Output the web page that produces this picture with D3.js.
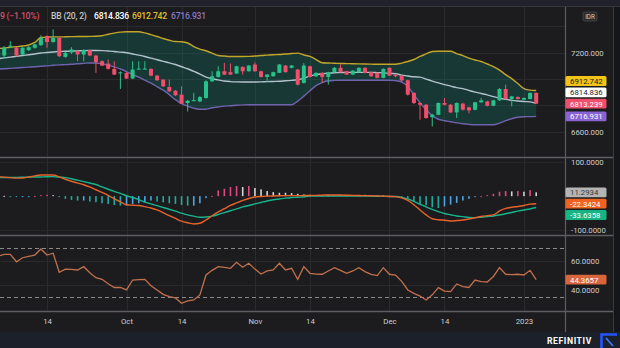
<!DOCTYPE html>
<html><head><meta charset="utf-8">
<script src="https://cdn.jsdelivr.net/npm/d3@7"></script>
<style>html,body{margin:0;padding:0;background:#1c1c1e;overflow:hidden}svg{display:block}</style>
</head><body>
<svg id="c" width="620" height="348"></svg>
<script>
// ---------- DATA ----------
const tickIndex  = [8, 21, 30, 42, 51, 64, 73, 86];
const tickLabels = ["14", "Oct", "14", "Nov", "14", "Dec", "14", "2023"];

const open = [
7160,7177,7245,7236,7185,7218,7236,7256,7324,7279,
7311,7167,7200,7210,7185,7218,7177,7134,7116,7076,
7046,7046,7003,7074,7074,7076,7025,6995,6939,6911,
6881,6818,6835,6830,6856,6982,7015,7058,7051,7041,
7091,7058,7109,7058,7015,7020,7046,7101,7084,7071,
6970,7096,7020,7046,7015,7051,7084,7058,7033,7051,
7084,7051,7046,7008,7084,7033,7025,6990,6894,6818,
6805,6711,6729,6818,6805,6747,6813,6785,6767,6823,
6830,6797,6838,6924,6848,6863,6843,6848,6894];
const high = [
7215,7248,7286,7240,7240,7248,7265,7330,7330,7375,
7315,7205,7240,7215,7225,7222,7180,7140,7147,7134,
7058,7050,7134,7134,7134,7080,7030,6995,6995,6915,
6944,6840,6894,6870,6990,7058,7096,7122,7117,7100,
7095,7105,7125,7062,7036,7055,7112,7105,7105,7075,
7120,7100,7050,7050,7055,7090,7109,7062,7066,7088,
7088,7055,7050,7080,7088,7036,7036,6995,6900,6822,
6810,6735,6822,6856,6810,6822,6820,6790,6827,6856,
6835,6842,6930,6957,6872,6868,6860,6898,6898];
const low = [
7150,7159,7236,7170,7180,7212,7230,7250,7236,7275,
7165,7160,7190,7134,7134,7172,7046,7096,7071,7030,
6924,7000,7000,7070,7070,7020,6985,6940,6900,6870,
6810,6754,6830,6825,6850,6978,7010,7030,7030,7038,
7033,7055,7055,7010,6977,7018,7044,7048,7080,6950,
6965,7010,7015,6970,6957,7048,7048,7030,7030,7048,
7042,7015,7005,7005,7020,7012,6978,6875,6810,6691,
6700,6640,6725,6800,6742,6704,6760,6740,6762,6820,
6792,6794,6835,6845,6792,6845,6840,6845,6810];
const close = [
7200,7236,7252,7177,7236,7240,7261,7311,7279,7311,
7172,7197,7223,7185,7218,7177,7127,7101,7076,7033,
7050,7003,7071,7078,7078,7025,6990,6944,6906,6876,
6813,6835,6840,6863,6982,7020,7058,7033,7033,7096,
7058,7101,7058,7015,7033,7051,7109,7051,7101,6957,
7101,7015,7046,7015,7051,7084,7051,7033,7063,7084,
7046,7020,7008,7076,7025,7020,6988,6881,6818,6805,
6704,6729,6818,6805,6747,6818,6767,6762,6823,6838,
6797,6838,6924,6848,6868,6848,6856,6894,6813.239];

const bbUpper = [
7230,7234,7240,7244,7249,7257,7276,7314,7317,7318,
7318,7319,7320,7321,7321,7322,7323,7327,7338,7347,
7354,7357,7357,7357,7348,7335,7321,7306,7293,7283,
7281,7272,7245,7226,7213,7196,7177,7173,7170,7170,
7170,7171,7173,7177,7180,7183,7185,7189,7192,7195,
7181,7170,7147,7122,7120,7119,7117,7116,7115,7114,
7113,7112,7111,7111,7111,7111,7120,7132,7147,7170,
7189,7208,7210,7210,7210,7192,7177,7158,7143,7132,
7113,7094,7067,7033,7002,6965,6927,6915,6912.742];
const bbMid = [
7153,7159,7165,7171,7177,7183,7189,7196,7200,7204,
7208,7209,7211,7212,7214,7215,7215,7214,7211,7208,
7203,7198,7189,7180,7170,7158,7145,7133,7122,7109,
7092,7077,7057,7037,7014,7001,6993,6984,6980,6978,
6977,6977,6977,6978,6980,6981,6982,6986,6989,6994,
7006,7023,7033,7039,7044,7047,7048,7050,7050,7050,
7050,7050,7048,7046,7042,7040,7029,7022,7016,7014,
6999,6984,6970,6957,6946,6934,6927,6913,6900,6890,
6879,6866,6854,6845,6838,6833,6829,6826,6814.836];
const bbLower = [
7075,7077,7080,7083,7086,7089,7092,7096,7099,7103,
7106,7108,7111,7115,7118,7121,7120,7113,7105,7091,
7075,7056,7033,7013,6991,6968,6942,6915,6881,6843,
6813,6794,6778,6771,6771,6782,6788,6794,6797,6801,
6804,6805,6805,6805,6805,6805,6805,6805,6805,6832,
6870,6911,6949,6972,6986,6989,6990,6990,6990,6990,
6990,6990,6990,6990,6990,6987,6976,6942,6881,6820,
6767,6722,6695,6684,6676,6668,6661,6656,6653,6653,
6653,6653,6665,6684,6699,6710,6714,6715,6716.931];

const macdLine = [
57.6,56.1,54.7,53.2,53.8,56.7,59.7,62.6,62.6,62.6,
56.7,49.9,44,39,33.7,27.2,18.9,10.9,2.1,-7.7,
-17.1,-25.4,-26.9,-27.8,-31,-34.9,-40.8,-49,-57.6,-65.9,
-73.9,-78.6,-82.1,-80.1,-70.3,-57.9,-46.7,-37.2,-27.5,-20.1,
-12.7,-6.8,-2.4,-0.9,0,0.6,1.2,1.5,1.5,1.5,
1.8,2,2.4,3,3.5,3.5,3.2,2.7,2.4,1.8,
1.5,1.2,0.6,0,-0.9,-1.5,-5.3,-12.7,-25.4,-40.8,
-55.5,-66.8,-69.7,-71.2,-73.3,-72.1,-70.6,-67.4,-63.8,-60,
-57.6,-55.5,-43.7,-36.3,-32.8,-30.4,-27.5,-23.6,-22.3424];
const signalLine = [
54.7,54.9,55.2,55.5,55.8,56.1,56.4,56.7,57.3,57.6,
56.1,54.7,51.4,47.3,43.1,38.8,34.3,27.2,20.4,13.9,
8,1.2,-4.1,-10.3,-17.7,-23,-28.1,-33.4,-38.7,-44.3,
-50.2,-55.5,-59.1,-62.3,-61.4,-59.1,-54.1,-48.7,-43.1,-37.8,
-31.9,-27.5,-23,-18.6,-14.2,-10.6,-8.3,-5.9,-4.4,-3.2,
-1.8,0.3,0.6,0,0.3,0.3,0.6,0.6,0.6,0.6,
0.3,0,-0.3,-0.6,-0.9,-1.2,-3.5,-8.3,-15.7,-23.9,
-31.9,-39.3,-45.8,-51.1,-54.9,-58.5,-60.6,-62.9,-63.5,-62.3,
-60.3,-58.5,-55.5,-52,-48.2,-44.3,-40.8,-37.8,-33.6358];
const macdHist = [
2,1,-1,-2,-2,-1,1,3,4,3,
-2,-8,-11,-13,-13,-16,-18,-21,-23,-26,
-28,-28,-23,-21,-18,-13,-16,-18,-21,-23,
-26,-28,-28,-21,-6,1,17,22,27,30,
27,30,24,20,15,12,10,10,9,7,
5,4,3,2,2,3,4,3,3,4,
4,3,2,2,1,-1,-4,-8,-15,-23,
-27,-33,-35,-30,-25,-20,-13,-8,-3,0,
3,7,13,15,14,15,13,18,11.2934];

const rsi = [
63.5,65,65,59,62.3,63.5,64.5,69.4,64.5,66,
50.4,52.9,52.8,52.3,55,50,46,44.7,41,38,
38,36,44.1,44.5,44.7,39.5,36,32.4,30.5,29.5,
25.1,27,27.8,31.9,48.2,52,55,54.5,53.7,58.6,
54.5,57.8,53,49,51.5,52.3,57.8,52.3,53.7,44.7,
55,49.6,49,48.8,51.5,54.2,52,49.6,51.5,54.2,
51,48.8,47.7,54.2,48.8,48.2,43,36,33.2,31,
27.8,32,37.9,35,34.6,40.9,38.7,38,44.1,42.8,
42.5,47,54.2,48.8,48.5,48.8,48.2,52,44.3657];

const priceGrid = [7400, 7200, 7000, 6800, 6600];
const priceTicks = [7200, 6600];
const macdTicks = [100, -100];
const rsiTicks = [60, 40];
const rsiBounds = [70, 30];

// ---------- DRAW ----------
const FONT = "Roboto, 'Open Sans', 'Liberation Sans', sans-serif";
const svg = d3.select("#c");
const PR = 565;
const n = close.length;
const idx = d3.range(n);

const x  = d3.scaleLinear().domain([0, 88]).range([-1.9, 536.2]);
const yP = d3.scaleLinear().domain([6600, 7200]).range([131.8, 52.5]);
const yM = d3.scaleLinear().domain([-100, 100]).range([230, 162.3]);
const yR = d3.scaleLinear().domain([30, 70]).range([297.3, 248.3]);

const defs = svg.append("defs");
[["cP", 7, 150], ["cM", 158, 77], ["cR", 236, 75]].forEach(([id, y0, h]) => {
  defs.append("clipPath").attr("id", id).append("rect")
    .attr("x", 0).attr("y", y0).attr("width", PR).attr("height", h);
});

// backgrounds
svg.append("rect").attr("width", 620).attr("height", 348).attr("fill", "#1c1c1e");
svg.append("rect").attr("width", 620).attr("height", 6).attr("fill", "#1f222b");
svg.append("line").attr("x1", 0).attr("x2", 620).attr("y1", 6.5).attr("y2", 6.5).attr("stroke", "#33363f");
svg.append("rect").attr("x", 0).attr("y", 332).attr("width", 620).attr("height", 16).attr("fill", "#1c202b");
svg.append("rect").attr("x", 613).attr("y", 7).attr("width", 7).attr("height", 325).attr("fill", "#151619");
svg.append("line").attr("x1", 613.5).attr("x2", 613.5).attr("y1", 7).attr("y2", 332).attr("stroke", "#3a3a3e");

// grids
const grid = svg.append("g").attr("stroke", "#2b2b2e").attr("stroke-width", 1);
tickIndex.forEach(t => {
  const xx = Math.round(x(t)) + 0.5;
  grid.append("line").attr("x1", xx).attr("x2", xx).attr("y1", 7).attr("y2", 311);
});
priceGrid.forEach(v => grid.append("line").attr("x1", 0).attr("x2", PR).attr("y1", Math.round(yP(v)) + 0.5).attr("y2", Math.round(yP(v)) + 0.5));
macdTicks.forEach(v => grid.append("line").attr("x1", 0).attr("x2", PR).attr("y1", Math.round(yM(v)) + 0.5).attr("y2", Math.round(yM(v)) + 0.5).attr("stroke", "#262629"));
rsiTicks.forEach(v => grid.append("line").attr("x1", 0).attr("x2", PR).attr("y1", Math.round(yR(v)) + 0.5).attr("y2", Math.round(yR(v)) + 0.5));

// ---- price panel ----
const gP = svg.append("g").attr("clip-path", "url(#cP)");
gP.append("path").datum(idx)
  .attr("d", d3.area().x(i => x(i)).y0(i => yP(bbLower[i])).y1(i => yP(bbUpper[i])).curve(d3.curveMonotoneX))
  .attr("fill", "rgba(10,140,125,0.25)");
const bbLine = arr => d3.line().x(i => x(i)).y(i => yP(arr[i])).curve(d3.curveMonotoneX);
gP.append("path").datum(idx).attr("d", bbLine(bbLower)).attr("fill", "none").attr("stroke", "#6f63ad").attr("stroke-width", 1.4);
gP.append("path").datum(idx).attr("d", bbLine(bbMid)).attr("fill", "none").attr("stroke", "#b2c2cc").attr("stroke-width", 1.4);
gP.append("path").datum(idx).attr("d", bbLine(bbUpper)).attr("fill", "none").attr("stroke", "#c2a52b").attr("stroke-width", 1.4);

const GREEN = "#27c28a", RED = "#ef4f6b";
const candles = gP.selectAll("g.c").data(idx).join("g").attr("class", "c")
  .attr("fill", i => close[i] >= open[i] ? GREEN : RED)
  .attr("stroke", i => close[i] >= open[i] ? GREEN : RED);
candles.append("line")
  .attr("x1", i => x(i)).attr("x2", i => x(i))
  .attr("y1", i => yP(high[i])).attr("y2", i => yP(low[i])).attr("stroke-width", 1);
candles.append("rect")
  .attr("x", i => x(i) - 2).attr("width", 4)
  .attr("y", i => yP(Math.max(open[i], close[i])))
  .attr("height", i => Math.max(1, Math.abs(yP(open[i]) - yP(close[i]))))
  .attr("stroke", "none");

// ---- MACD panel ----
const gM = svg.append("g").attr("clip-path", "url(#cM)");
const histColor = i => {
  const v = macdHist[i], p = i > 0 ? macdHist[i - 1] : v;
  if (v >= 0) return v > p ? "#e0487f" : "#d3d3d3";
  return v < p ? "#21aaa0" : "#4aa6e6";
};
gM.selectAll("rect.h").data(idx).join("rect").attr("class", "h")
  .attr("x", i => x(i) - 0.8).attr("width", 1.6)
  .attr("y", i => Math.min(yM(0), yM(macdHist[i])))
  .attr("height", i => Math.max(1, Math.abs(yM(macdHist[i]) - yM(0))))
  .attr("fill", histColor);
gM.append("path").datum(idx).attr("d", d3.line().x(i => x(i)).y(i => yM(signalLine[i])).curve(d3.curveMonotoneX))
  .attr("fill", "none").attr("stroke", "#17b58c").attr("stroke-width", 1.4);
gM.append("path").datum(idx).attr("d", d3.line().x(i => x(i)).y(i => yM(macdLine[i])).curve(d3.curveMonotoneX))
  .attr("fill", "none").attr("stroke", "#e6632b").attr("stroke-width", 1.4);

// ---- RSI panel ----
const gR = svg.append("g").attr("clip-path", "url(#cR)");
rsiBounds.forEach(v => gR.append("line").attr("x1", 0).attr("x2", PR)
  .attr("y1", Math.round(yR(v)) + 0.5).attr("y2", Math.round(yR(v)) + 0.5)
  .attr("stroke", "#8a8a8a").attr("stroke-dasharray", "4,3"));
gR.append("path").datum(idx).attr("d", d3.line().x(i => x(i)).y(i => yR(rsi[i])))
  .attr("fill", "none").attr("stroke", "#c0704d").attr("stroke-width", 1.3);

// separators and right axis line
[157.5, 235.5, 311.5].forEach(yy => svg.append("line").attr("x1", 0).attr("x2", 613).attr("y1", yy).attr("y2", yy)
  .attr("stroke", "#5e5e62").attr("stroke-width", 1.5));
svg.append("line").attr("x1", PR + 0.5).attr("x2", PR + 0.5).attr("y1", 7).attr("y2", 332).attr("stroke", "#5e5e62").attr("stroke-width", 1.2);

// ---- axes ----
function styleAxis(g) {
  g.select(".domain").remove();
  g.selectAll("text").attr("fill", "#cfcfcf").attr("font-family", FONT).attr("font-size", "7.8px");
}
svg.append("g").attr("transform", `translate(${PR},0)`)
  .call(d3.axisRight(yP).tickValues(priceTicks).tickFormat(d3.format(".3f")).tickSize(0).tickPadding(6)).call(styleAxis);
svg.append("g").attr("transform", `translate(${PR},0)`)
  .call(d3.axisRight(yM).tickValues(macdTicks).tickFormat(d => (d < 0 ? "-" : "") + d3.format(".4f")(Math.abs(d))).tickSize(0).tickPadding(6)).call(styleAxis);
svg.append("g").attr("transform", `translate(${PR},0)`)
  .call(d3.axisRight(yR).tickValues(rsiTicks).tickFormat(d3.format(".4f")).tickSize(0).tickPadding(6)).call(styleAxis)
  .call(g => g.selectAll("text").attr("dy", d => d === 40 ? "0.98em" : "0.32em"));
svg.append("g").attr("transform", "translate(0,313)")
  .call(d3.axisBottom(x).tickValues(tickIndex).tickFormat((d, k) => tickLabels[k]).tickSize(0).tickPadding(5)).call(styleAxis);

// ---- value labels on the right axis ----
function placeLabels(items, dir, h) {
  const placed = [];
  items.forEach(it => {
    let yy = it.y, moved = true, guard = 0;
    while (moved && guard++ < 10) {
      moved = false;
      placed.forEach(p => { if (Math.abs(p.ly - yy) < h) { yy = p.ly + dir * h; moved = true; } });
    }
    it.ly = yy; placed.push(it);
  });
  return items;
}
function drawLabels(items) {
  items.forEach(it => {
    svg.append("rect").attr("x", PR + 0.5).attr("y", it.ly - 4.9).attr("width", 41).attr("height", 9.8)
      .attr("rx", 1.5).attr("fill", it.bg);
    svg.append("text").attr("x", PR + 5).attr("y", it.ly + 2.9).text(it.txt)
      .attr("fill", it.fg).attr("font-family", FONT).attr("font-size", "7.8px");
  });
}
const fmtNeg = (v, f) => (v < 0 ? "-" : "") + d3.format(f)(Math.abs(v));
const L = n - 1;
drawLabels(placeLabels([
  { y: yP(close[L]), txt: fmtNeg(close[L], ".3f"), bg: "#ef4f6b", fg: "#ffffff" },
  { y: yP(bbLower[L]), txt: fmtNeg(bbLower[L], ".3f"), bg: "#8a63d2", fg: "#ffffff" },
  { y: yP(bbMid[L]), txt: fmtNeg(bbMid[L], ".3f"), bg: "#ffffff", fg: "#222222" },
  { y: yP(bbUpper[L]), txt: fmtNeg(bbUpper[L], ".3f"), bg: "#f2c318", fg: "#222222" }
], -1, 11.3));
drawLabels(placeLabels([
  { y: yM(macdHist[L]), txt: fmtNeg(macdHist[L], ".4f"), bg: "#b4b4b4", fg: "#3a3a3a" },
  { y: yM(macdLine[L]), txt: fmtNeg(macdLine[L], ".4f"), bg: "#f0621f", fg: "#ffffff" },
  { y: yM(signalLine[L]), txt: fmtNeg(signalLine[L], ".4f"), bg: "#17b382", fg: "#ffffff" }
], 1, 11.3));
drawLabels([{ ly: yR(rsi[L]), txt: fmtNeg(rsi[L], ".4f"), bg: "#d8653b", fg: "#ffffff" }]);

// IDR box
svg.append("rect").attr("x", 583).attr("y", 12).attr("width", 14).attr("height", 9).attr("rx", 1.5)
  .attr("fill", "#2c2c2f").attr("stroke", "#4a4a4e").attr("stroke-width", 0.8);
svg.append("text").attr("x", 590).attr("y", 19).attr("text-anchor", "middle").text("IDR")
  .attr("fill", "#cfcfcf").attr("font-family", FONT).attr("font-size", "6.3px");

// legend
const legend = [
  { x: 0, t: "9 (\u22121.10%)", c: "#d9506b" },
  { x: 51, t: "BB (20, 2)", c: "#c6c6c6" },
  { x: 94, t: d3.format(".3f")(bbMid[L]), c: "#ffffff" },
  { x: 132, t: d3.format(".3f")(bbUpper[L]), c: "#e2c02c" },
  { x: 171, t: d3.format(".3f")(bbLower[L]), c: "#8c78c8" }
];
legend.forEach(d => svg.append("text").attr("x", d.x).attr("y", 19).text(d.t).attr("fill", d.c)
  .attr("font-family", FONT).attr("font-size", "8.6px").attr("font-weight", 500).attr("letter-spacing", "-0.2px"));

// footer brand
svg.append("text").attr("x", 547).attr("y", 343.5).text("REFINITIV").attr("fill", "#ffffff")
  .attr("font-family", FONT).attr("font-size", "8.6px").attr("font-weight", 700).attr("letter-spacing", "0.6px");
svg.append("path").attr("d", "M601.5,348 V334.5 H617").attr("fill", "none").attr("stroke", "#2356ff").attr("stroke-width", 2.6);
svg.append("path").attr("d", "M606,338 L613,346").attr("fill", "none").attr("stroke", "#3b7bff").attr("stroke-width", 1.6);
</script>
</body></html>
